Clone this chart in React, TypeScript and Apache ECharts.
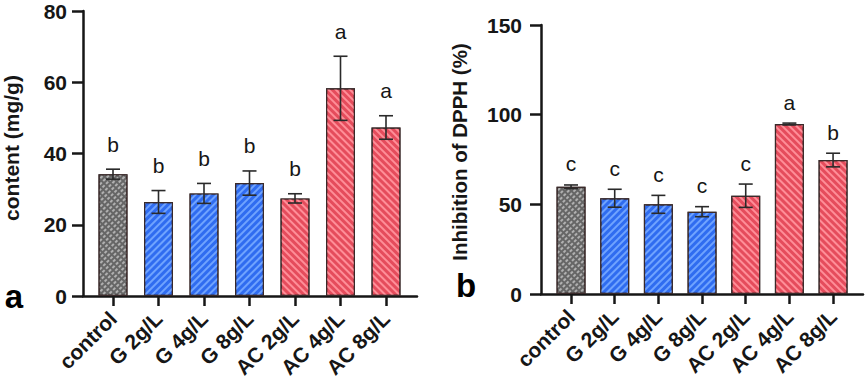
import React, { useEffect, useRef } from "react";
import * as echarts from "echarts";

const categories = ["control", "G 2g/L", "G 4g/L", "G 8g/L", "AC 2g/L", "AC 4g/L", "AC 8g/L"];
const groups = ["control", "G", "G", "G", "AC", "AC", "AC"];

const contentMean = [34.2, 26.4, 28.8, 31.7, 27.4, 58.3, 47.3];
const contentErr = [1.4, 3.2, 2.8, 3.4, 1.3, 9.0, 3.3];
const contentLetters = ["b", "b", "b", "b", "b", "a", "a"];
const contentAxis = { min: 0, max: 80, interval: 20 };

const dpphMean = [59.8, 53.4, 50.0, 45.9, 54.8, 94.8, 74.7];
const dpphErr = [1.0, 5.0, 5.0, 2.8, 6.5, 0.5, 3.8];
const dpphLetters = ["c", "c", "c", "c", "c", "a", "b"];
const dpphAxis = { min: 0, max: 150, interval: 50 };

const FONT = "Liberation Sans, Arial, Helvetica, sans-serif";
const INK = "#161616";

const groupStyle: Record<string, any> = {
  control: {
    color: "#666666",
    decal: { symbol: "rect", symbolSize: 1, dashArrayX: [3, 2], dashArrayY: [2, 2], rotation: -Math.PI / 4, color: "rgba(180,180,180,0.95)" },
  },
  G: {
    color: "#2f6cf0",
    decal: { symbol: "rect", symbolSize: 1, dashArrayX: [1, 0], dashArrayY: [2, 3], rotation: -Math.PI / 4, color: "rgba(115,165,255,0.95)" },
  },
  AC: {
    color: "#e54c5c",
    decal: { symbol: "rect", symbolSize: 1, dashArrayX: [1, 0], dashArrayY: [2, 3], rotation: Math.PI / 4, color: "rgba(255,145,155,0.95)" },
  },
};

function barData(values: number[]) {
  return values.map((v, i) => ({
    value: v,
    itemStyle: {
      color: groupStyle[groups[i]].color,
      decal: groupStyle[groups[i]].decal,
      borderColor: "#3a2a2a",
      borderWidth: 1.2,
    },
  }));
}

function errorSeries(mean: number[], err: number[], letters: string[], idx: number, letterGap: number) {
  return {
    type: "custom",
    xAxisIndex: idx,
    yAxisIndex: idx,
    z: 5,
    data: mean.map((m, i) => [i, m, err[i]]),
    encode: { x: 0, y: 1 },
    renderItem: (params: any, api: any) => {
      const i = api.value(0);
      const m = api.value(1);
      const e = api.value(2);
      const top = api.coord([i, m + e]);
      const bot = api.coord([i, m - e]);
      const cap = 7;
      const st = { stroke: "#2a2a2a", lineWidth: 1.6 };
      return {
        type: "group",
        children: [
          { type: "line", shape: { x1: top[0], y1: top[1], x2: bot[0], y2: bot[1] }, style: st },
          { type: "line", shape: { x1: top[0] - cap, y1: top[1], x2: top[0] + cap, y2: top[1] }, style: st },
          { type: "line", shape: { x1: bot[0] - cap, y1: bot[1], x2: bot[0] + cap, y2: bot[1] }, style: st },
          {
            type: "text",
            x: top[0],
            y: top[1] - letterGap,
            style: { text: letters[params.dataIndex], fontSize: 21, fontFamily: FONT, fill: INK, align: "center", verticalAlign: "middle" },
          },
        ],
      };
    },
  };
}

const axisLineStyle = { color: INK, width: 2.5 };

function valueAxis(gridIndex: number, ax: any, offset: number, margin: number) {
  return {
    type: "value",
    gridIndex,
    min: ax.min,
    max: ax.max,
    interval: ax.interval,
    offset,
    axisLine: { show: true, lineStyle: axisLineStyle },
    axisTick: { show: true, length: 11, lineStyle: axisLineStyle },
    axisLabel: { fontSize: 21, fontWeight: "bold", color: INK, fontFamily: FONT, margin },
    splitLine: { show: false },
  };
}

function catAxis(gridIndex: number) {
  return {
    type: "category",
    gridIndex,
    data: categories,
    axisLine: { show: false },
    axisTick: { show: true, alignWithLabel: true, length: 10, lineStyle: axisLineStyle },
    axisLabel: { rotate: 45, interval: 0, fontSize: 21, fontWeight: "bold", color: INK, fontFamily: FONT, margin: 19 },
    splitLine: { show: false },
  };
}

function lineAxis(gridIndex: number) {
  return {
    type: "value",
    gridIndex,
    min: 0,
    max: 1,
    axisLine: { show: true, onZero: false, lineStyle: axisLineStyle },
    axisTick: { show: false },
    axisLabel: { show: false },
    splitLine: { show: false },
  };
}

export default function App() {
  const ref = useRef<HTMLDivElement>(null);
  useEffect(() => {
    if (!ref.current) return;
    const chart = echarts.init(ref.current, null, { renderer: "svg" });
    chart.setOption({
      animation: false,
      backgroundColor: "#ffffff",
      grid: [
        { left: 90.25, top: 11, width: 318.5, height: 285 },
        { left: 83, top: 11, width: 334, height: 285 },
        { left: 549.2, top: 25, width: 305.7, height: 269 },
        { left: 541, top: 25, width: 322, height: 269 },
      ],
      xAxis: [catAxis(0), lineAxis(1), catAxis(2), lineAxis(3)],
      yAxis: [
        valueAxis(0, contentAxis, 7.25, 16),
        { type: "value", gridIndex: 1, show: false, min: 0, max: 1 },
        valueAxis(2, dpphAxis, 8.2, 19),
        { type: "value", gridIndex: 3, show: false, min: 0, max: 1 },
      ],
      series: [
        { type: "bar", xAxisIndex: 0, yAxisIndex: 0, barWidth: 29, data: barData(contentMean), z: 2 },
        errorSeries(contentMean, contentErr, contentLetters, 0, 25),
        { type: "bar", xAxisIndex: 2, yAxisIndex: 2, barWidth: 29, data: barData(dpphMean), z: 2 },
        errorSeries(dpphMean, dpphErr, dpphLetters, 2, 21),
      ],
      graphic: [
        { type: "text", x: 14, y: 296, style: { text: "a", fontSize: 33, fontWeight: "bold", fontFamily: FONT, fill: "#000", align: "center", verticalAlign: "middle" } },
        { type: "text", x: 466, y: 285, style: { text: "b", fontSize: 33, fontWeight: "bold", fontFamily: FONT, fill: "#000", align: "center", verticalAlign: "middle" } },
        { type: "text", x: 11, y: 148, rotation: Math.PI / 2, style: { text: "content (mg/g)", fontSize: 21, fontWeight: "bold", fontFamily: FONT, fill: INK, align: "center", verticalAlign: "middle" } },
        { type: "text", x: 459, y: 152, rotation: Math.PI / 2, style: { text: "Inhibition of DPPH (%)", fontSize: 20.5, fontWeight: "bold", fontFamily: FONT, fill: INK, align: "center", verticalAlign: "middle" } },
      ],
    });
    return () => chart.dispose();
  }, []);
  return <div ref={ref} style={{ position: "fixed", left: 0, top: 0, width: 866, height: 387 }} />;
}
